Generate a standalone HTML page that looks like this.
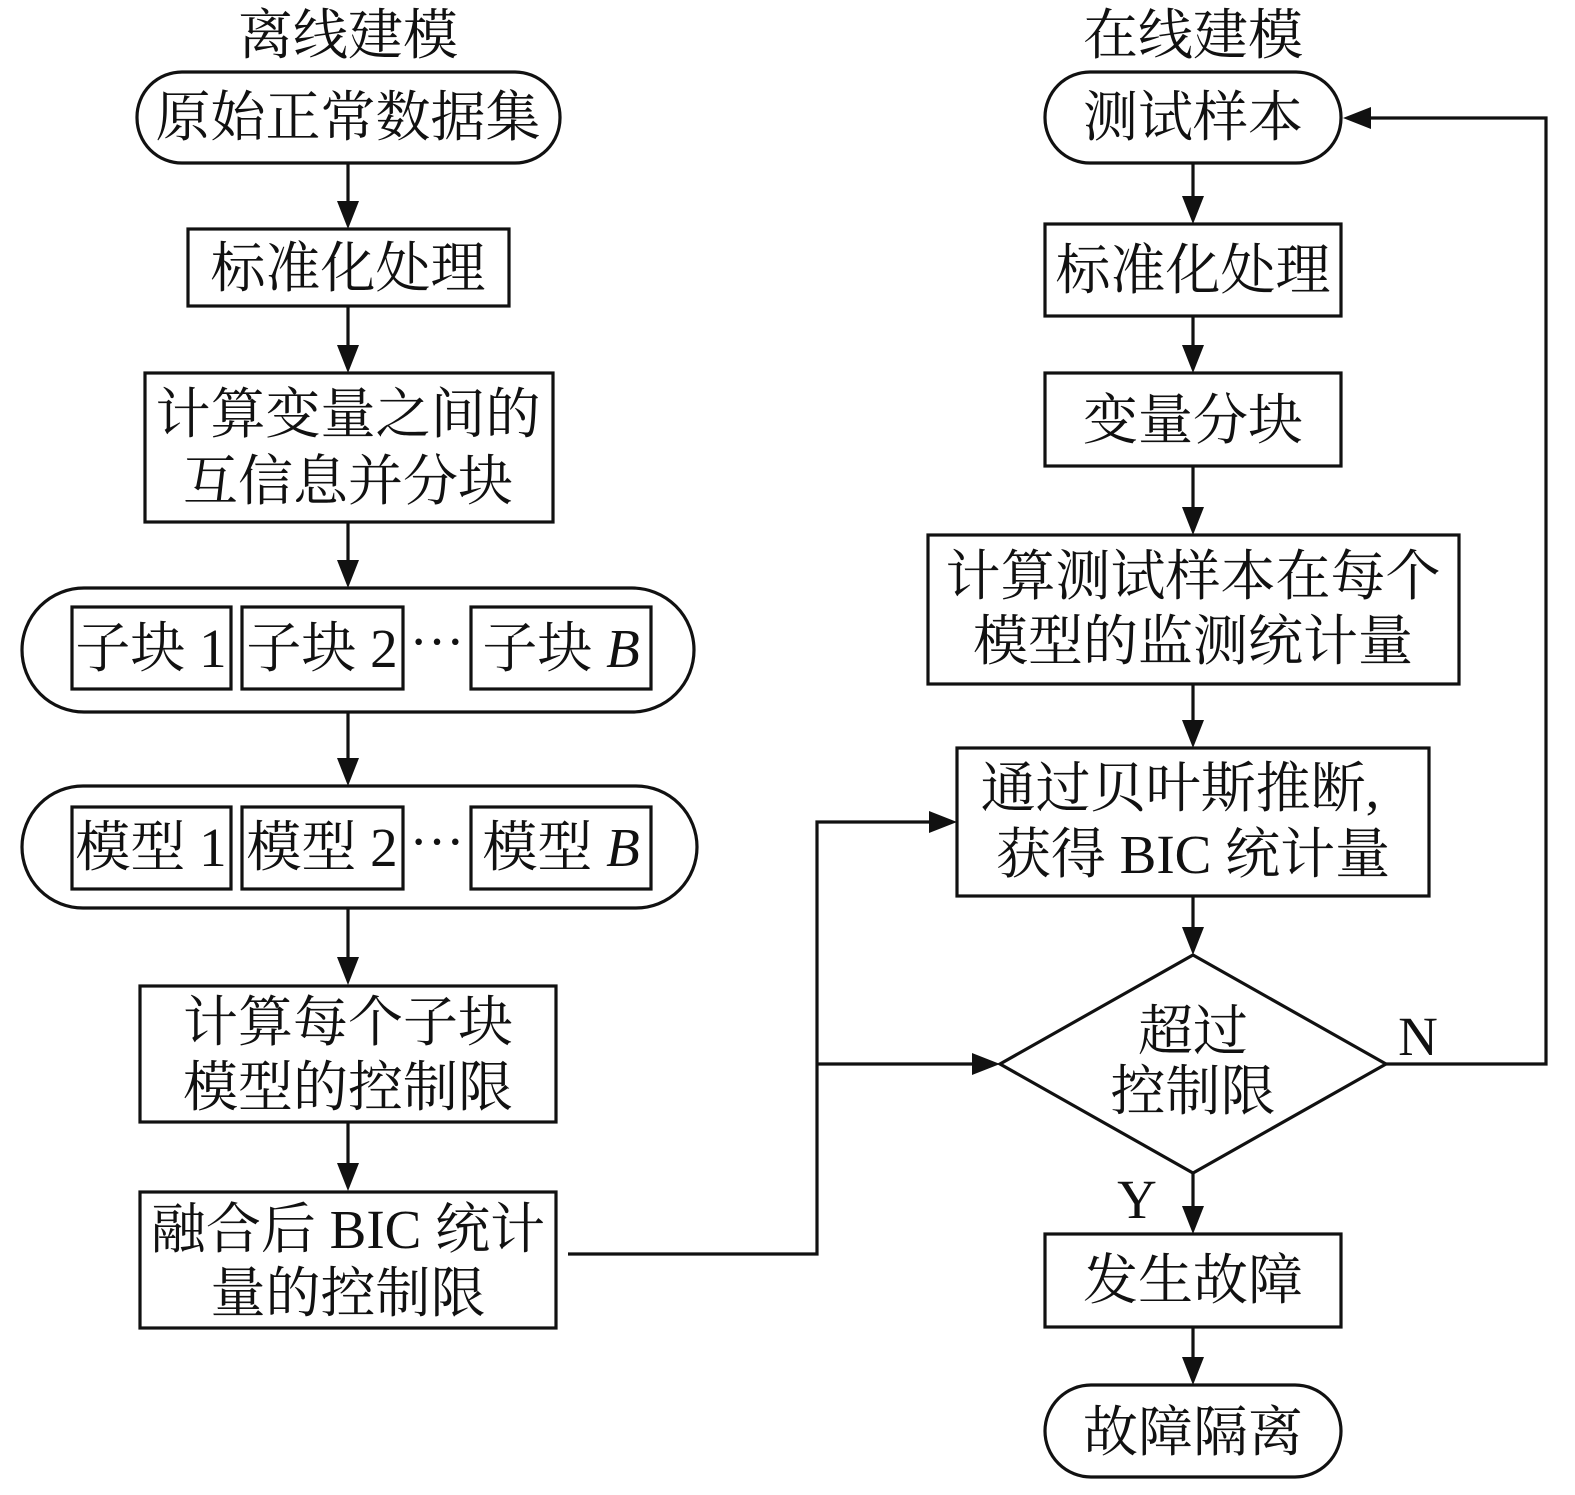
<!DOCTYPE html>
<html><head><meta charset="utf-8"><style>
html,body{margin:0;padding:0;background:#fff}
svg text{font-family:"Liberation Serif","Noto Serif CJK SC",serif;font-size:55px;fill:#111;text-anchor:middle}
</style></head><body>
<svg width="1575" height="1490" viewBox="0 0 1575 1490" xmlns="http://www.w3.org/2000/svg">
<g fill="none" stroke="#111" stroke-width="3.2">
<rect x="137" y="72" width="423" height="91" rx="45"/>
<rect x="188" y="229" width="321" height="77"/>
<rect x="145" y="373" width="408" height="149"/>
<rect x="22" y="588" width="672" height="124" rx="62"/>
<rect x="72" y="607" width="159" height="82"/>
<rect x="242" y="607" width="161" height="82"/>
<rect x="471" y="607" width="180" height="82"/>
<rect x="22" y="786" width="675" height="122" rx="61"/>
<rect x="72" y="807" width="159" height="82"/>
<rect x="242" y="807" width="161" height="82"/>
<rect x="471" y="807" width="180" height="82"/>
<rect x="140" y="986" width="416" height="136"/>
<rect x="140" y="1192" width="416" height="136"/>
<rect x="1045" y="72" width="296" height="91" rx="45"/>
<rect x="1045" y="224" width="296" height="92"/>
<rect x="1045" y="373" width="296" height="93"/>
<rect x="928" y="535" width="531" height="149"/>
<rect x="957" y="748" width="472" height="148"/>
<polygon points="1193,955 1386,1064 1193,1173 1000,1064"/>
<rect x="1045" y="1234" width="296" height="93"/>
<rect x="1045" y="1385" width="296" height="92" rx="46"/>
<path d="M348 163V205M348 306V350M348 522V565M348 712V763M348 908V962M348 1122V1168"/>
<path d="M1193 163V200M1193 316V350M1193 466V512M1193 684V725M1193 896V932M1193 1173V1211M1193 1327V1362"/>
<path d="M568 1254H817V822H932M817 1064H975"/>
<path d="M1386 1064H1546V118H1368"/>
</g>
<g fill="#111">
<polygon points="337,201 359,201 348,229"/>
<polygon points="337,345 359,345 348,373"/>
<polygon points="337,560 359,560 348,588"/>
<polygon points="337,758 359,758 348,786"/>
<polygon points="337,957 359,957 348,985"/>
<polygon points="337,1163 359,1163 348,1191"/>
<polygon points="1182,196 1204,196 1193,224"/>
<polygon points="1182,345 1204,345 1193,373"/>
<polygon points="1182,507 1204,507 1193,535"/>
<polygon points="1182,720 1204,720 1193,748"/>
<polygon points="1182,927 1204,927 1193,955"/>
<polygon points="1182,1206 1204,1206 1193,1234"/>
<polygon points="1182,1357 1204,1357 1193,1385"/>
<polygon points="929,811 929,833 957,822"/>
<polygon points="972,1053 972,1075 1000,1064"/>
<polygon points="1371,107 1371,129 1343,118"/>
</g>
<text x="348" y="54">离线建模</text>
<text x="1193" y="54">在线建模</text>
<text x="348" y="136">原始正常数据集</text>
<text x="348" y="287">标准化处理</text>
<text x="348" y="433">计算变量之间的</text>
<text x="348" y="500">互信息并分块</text>
<text x="151" y="667">子块 1</text>
<text x="322" y="667">子块 2</text>
<text x="437" y="660">···</text>
<text x="561" y="667">子块 <tspan font-style="italic">B</tspan></text>
<text x="151" y="866">模型 1</text>
<text x="322" y="866">模型 2</text>
<text x="437" y="860">···</text>
<text x="561" y="866">模型 <tspan font-style="italic">B</tspan></text>
<text x="348" y="1041">计算每个子块</text>
<text x="348" y="1106">模型的控制限</text>
<text x="348" y="1248">融合后 BIC 统计</text>
<text x="348" y="1312">量的控制限</text>
<text x="1193" y="136">测试样本</text>
<text x="1193" y="289">标准化处理</text>
<text x="1193" y="439">变量分块</text>
<text x="1193" y="595">计算测试样本在每个</text>
<text x="1193" y="660">模型的监测统计量</text>
<text x="1180" y="807">通过贝叶斯推断,</text>
<text x="1193" y="873">获得 BIC 统计量</text>
<text x="1193" y="1050">超过</text>
<text x="1193" y="1110">控制限</text>
<text x="1418" y="1055">N</text>
<text x="1137" y="1218">Y</text>
<text x="1193" y="1299">发生故障</text>
<text x="1193" y="1451">故障隔离</text>
</svg>
</body></html>
